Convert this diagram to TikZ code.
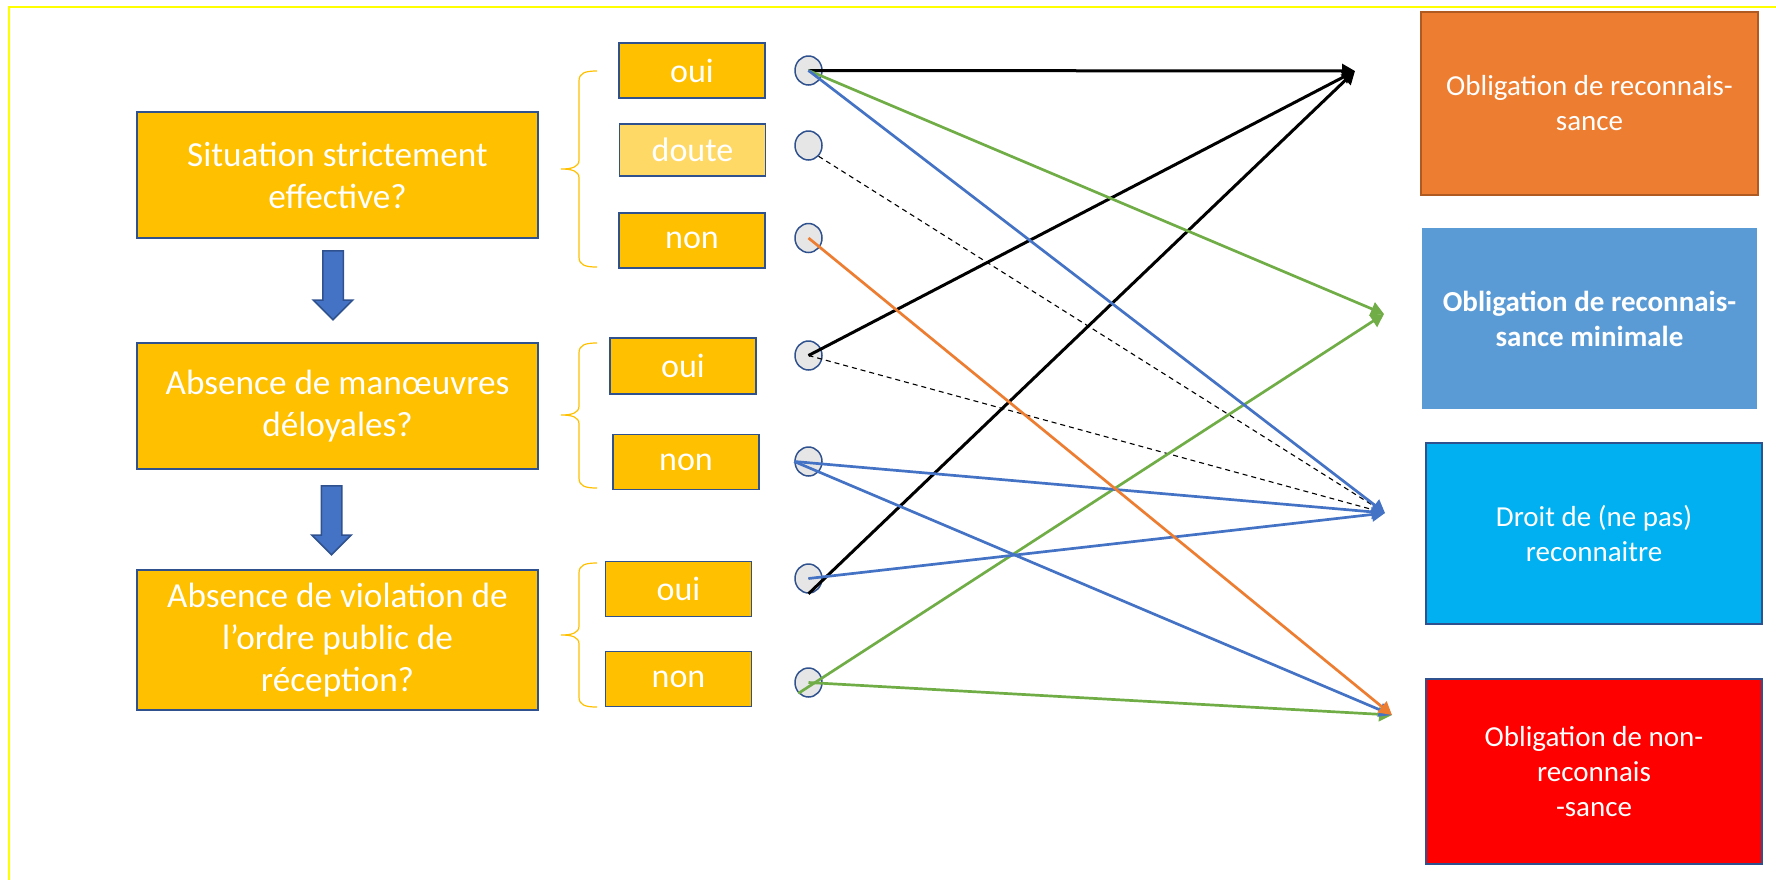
\documentclass[tikz,border=0pt]{standalone}
\usepackage{fontspec}
\setmainfont{Carlito}
\usetikzlibrary{positioning}
\usetikzlibrary{arrows.meta}
\usetikzlibrary{shapes.geometric}
\usetikzlibrary{shapes.arrows}

\definecolor{ouro}{HTML}{FFC000}
\definecolor{ouroclaro}{HTML}{FFD966}
\definecolor{contorno}{HTML}{2F528F}
\definecolor{azul}{HTML}{4472C4}
\definecolor{verde}{HTML}{70AD47}
\definecolor{laranja}{HTML}{ED7D31}
\definecolor{laranjaesc}{HTML}{AE5A21}
\definecolor{azulclaro}{HTML}{5B9BD5}
\definecolor{ciano}{HTML}{00B0F0}
\definecolor{cinza}{HTML}{E7E6E6}
\definecolor{amarelo}{HTML}{FFFF00}

\tikzset{
    pergunta/.style={draw=contorno, line width=0.75pt, fill=ouro, text=white, minimum width=200.5pt, align=center, font=\fontsize{17.6pt}{21pt}\selectfont},
    resposta/.style={draw=contorno, line width=0.75pt, fill=ouro, text=white, minimum width=73pt, minimum height=27.5pt, font=\fontsize{17pt}{20pt}\selectfont},
    resultado/.style={draw=contorno, line width=0.75pt, text=white, align=center, minimum width=168pt, font=\fontsize{14.5pt}{17.5pt}\selectfont},
    circulo/.style={ellipse, draw=contorno, fill=cinza, line width=0.75pt, minimum width=13.5pt, minimum height=14.5pt, inner sep=0pt},
    seta/.style={single arrow, rotate=-90, anchor=tail, draw=contorno, fill=azul, line width=0.75pt, inner sep=4.75pt, minimum height=34.5pt, minimum width=19pt, single arrow head extend=4.75pt},
    chave/.style={ouro, line width=0.6pt},
    ligacao/.style={line width=1.35pt, -{Triangle[length=6.5pt, width=7pt]}},
    tracejado/.style={line width=0.55pt, dash pattern=on 2.5pt off 2pt, shorten >=3pt}
}

\begin{document}
\begin{tikzpicture}[x=0.5pt, y=-0.5pt]
    \useasboundingbox (0,0) rectangle (1776,879);

    % Moldura
    \draw[amarelo, line width=0.85pt] (1800,7) -- (9,7) -- (9,900);

    % Perguntas
    \node[pergunta, minimum height=63pt] (q1) at (337.5,175) {Situation strictement\\effective?};
    \node[pergunta, minimum height=63pt] (q2) at (337.5,406) {Absence de manœuvres\\déloyales?};
    \node[pergunta, minimum height=70pt] (q3) at (337.5,640) {Absence de violation de\\l’ordre public de\\réception?};

    % Setas entre as perguntas
    \node[seta] (s1) at (333,250) {};
    \node[seta] (s2) at (331.5,485) {};

    % Respostas
    \node[resposta] (r1oui) at (692,70.5) {oui};
    \node[resposta, fill=ouroclaro, minimum height=26pt] (r1doute) at (692.5,150) {doute};
    \node[resposta] (r1non) at (692,240.5) {non};
    \node[resposta, minimum height=28pt] (r2oui) at (683,366) {oui};
    \node[resposta] (r2non) at (686,462) {non};
    \node[resposta] (r3oui) at (678.5,589) {oui};
    \node[resposta] (r3non) at (678.5,679) {non};

    % Chaves
    \foreach \cima/\ponta/\baixo in {71/169/267, 343/415/488, 563/635/707}
    {
    \draw[chave] (597,\cima) .. controls (585,\cima) and (579,\cima+2) .. (579,\cima+10)
        -- (579,\ponta-9) .. controls (579,\ponta-2) and (572,\ponta) .. (561,\ponta)
        .. controls (572,\ponta) and (579,\ponta+2) .. (579,\ponta+9)
        -- (579,\baixo-10) .. controls (579,\baixo-2) and (585,\baixo) .. (597,\baixo);
    }

    % Resultados
    \node[resultado, fill=laranja, draw=laranjaesc, minimum width=168.5pt, minimum height=91.5pt] (o1) at (1589.5,103.5) {Obligation de reconnais-\\sance};
    \node[resultado, fill=azulclaro, draw=azulclaro, minimum width=166.5pt, minimum height=89.5pt, font=\fontsize{14.5pt}{17.5pt}\selectfont\bfseries] (o2) at (1589.5,318.5) {Obligation de reconnais-\\sance minimale};
    \node[resultado, fill=ciano, minimum height=90.5pt] (o3) at (1594,533.5) {Droit de (ne pas)\\reconnaitre};
    \node[resultado, fill=red, minimum height=92.5pt] (o4) at (1594,771.5) {Obligation de non-\\reconnais\\-sance};

    % Pontos de chegada
    \coordinate (t1) at (1355,71);
    \coordinate (t2) at (1384,314);
    \coordinate (t3) at (1385,513);
    \coordinate (t4) at (1392,715);

    % Círculos
    \foreach \n/\y in {1/70.5, 2/145.5, 3/238, 4/355.5, 5/461.5, 6/578.5, 7/682.5}
    {
    \node[circulo] (c\n) at (808.5,\y) {};
    }

    % Ligações
    \foreach \de in {c2.south east, c4.center, c6.center}
        \draw[tracejado] (\de) -- (t3);
    \foreach \de in {c1.center, c4.center, c6.south}
        \draw[ligacao, black, line width=1.5pt] (\de) -- (t1);
    \foreach \de/\para in {c1.center/t2, c7.south west/t2, c7.center/t4}
        \draw[ligacao, verde] (\de) -- (\para);
    \foreach \de/\para in {c1.center/t3, c5.west/t3, c6.center/t3, c5.west/t4}
        \draw[ligacao, azul] (\de) -- (\para);
    \draw[ligacao, laranja] (c3.center) -- (t4);
\end{tikzpicture}
\end{document}
